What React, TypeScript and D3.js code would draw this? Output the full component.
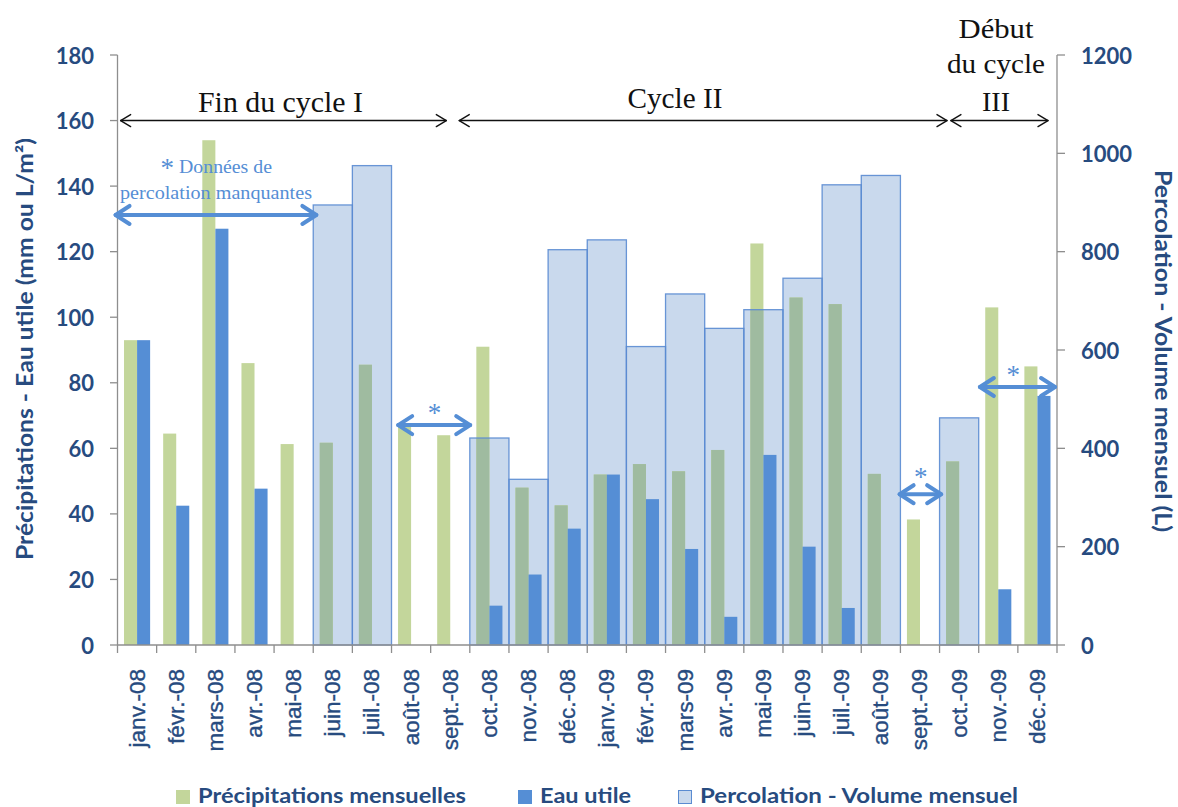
import React from "react";
import * as d3 from "d3";

const months = ["janv.-08","févr.-08","mars-08","avr.-08","mai-08","juin-08","juil.-08","août-08","sept.-08","oct.-08","nov.-08","déc.-08","janv.-09","févr.-09","mars-09","avr.-09","mai-09","juin-09","juil.-09","août-09","sept.-09","oct.-09","nov.-09","déc.-09"];
const precipitations = [93, 64.5, 154, 86, 61.3, 61.7, 85.5, 67, 64, 91, 48, 42.6, 52, 55.2, 53, 59.5, 122.5, 106, 104, 52.2, 38.3, 56, 103, 85];
const eauUtile: (number | null)[] = [93, 42.5, 127, 47.7, null, null, null, null, null, 12, 21.5, 35.5, 52, 44.5, 29.3, 8.6, 58, 30, 11.3, null, null, null, 17, 76];
const percolation: (number | null)[] = [null, null, null, null, null, 895, 975, null, null, 421, 337, 804, 824, 607, 714, 644, 682, 746, 936, 955, null, 462, null, null];
const leftTicks = [0, 20, 40, 60, 80, 100, 120, 140, 160, 180];
const rightTicks = [0, 200, 400, 600, 800, 1000, 1200];
const seriesNames = ["Précipitations mensuelles", "Eau utile", "Percolation - Volume mensuel"];

// annotations: x in fractional category index, y in left-axis units
const cycleArrows = [
  { i1: 0.08, i2: 8.4 },
  { i1: 8.73, i2: 21.19 },
  { i1: 21.29, i2: 23.77 },
];
const missingArrows = [
  { i1: -0.05, i2: 5.08, v: 131.2, star: [1.27, 147.5] },
  { i1: 7.17, i2: 9.01, v: 67.1, star: [8.1, 72.5] },
  { i1: 19.98, i2: 21.04, v: 46, star: [20.52, 53] },
  { i1: 22.03, i2: 23.95, v: 78.7, star: [22.88, 84.3] },
];

const W = 1178, H = 807;
const X0 = 117.5, X1 = 1057, YT = 55, YB = 645;
const navy = "#274b7f";
const green = "#c3d69b";
const greenDark = "#9fbba0";
const blue = "#558ed5";
const percFill = "#c9d9ed";
const percStroke = "#5a8bd1";
const axisCol = "#8e8e8e";
const sans = "Lato, 'Open Sans', sans-serif";
const serif = "'Liberation Serif', 'DejaVu Serif', serif";

function Arrow({ xa, xb, y, color, w, head, half }: any) {
  return (
    <g stroke={color} strokeWidth={w} fill="none" strokeLinecap="round" strokeLinejoin="round">
      <path d={`M${xa},${y}L${xb},${y}`} />
      <path d={`M${xa + head},${y - half}L${xa},${y}L${xa + head},${y + half}`} />
      <path d={`M${xb - head},${y - half}L${xb},${y}L${xb - head},${y + half}`} />
    </g>
  );
}

export default function App() {
  const x = d3.scaleBand<string>().domain(months).range([X0, X1]).paddingInner(0).paddingOuter(0);
  const step = x.bandwidth();
  const sub = d3.scaleBand<string>().domain(["p", "e"]).range([0, step]).paddingInner(0).paddingOuter(0.5);
  const y1 = d3.scaleLinear().domain([0, 180]).range([YB, YT]);
  const y2 = d3.scaleLinear().domain([0, 1200]).range([YB, YT]);
  const xi = (i: number) => X0 + i * step;

  return (
    <svg width={W} height={H} style={{ position: "absolute", left: 0, top: 0, background: "#fff" }}>
      {/* percolation fills */}
      {months.map((m, i) => percolation[i] == null ? null : (
        <rect key={"pf" + m} x={x(m)} y={y2(percolation[i] as number)} width={step}
          height={YB - y2(percolation[i] as number)} fill={percFill} />
      ))}
      {/* precipitation bars */}
      {months.map((m, i) => {
        const bx = (x(m) as number) + (sub("p") as number);
        const top = y1(precipitations[i]);
        const p = percolation[i];
        const darkTop = p == null ? null : Math.max(top, y2(p));
        return (
          <g key={"g" + m}>
            <rect x={bx} y={top} width={sub.bandwidth()} height={YB - top} fill={green} />
            {darkTop != null && <rect x={bx} y={darkTop} width={sub.bandwidth()} height={YB - darkTop} fill={greenDark} />}
          </g>
        );
      })}
      {/* percolation outlines */}
      {months.map((m, i) => percolation[i] == null ? null : (
        <rect key={"po" + m} x={x(m)} y={y2(percolation[i] as number)} width={step}
          height={YB - y2(percolation[i] as number)} fill="none" stroke={percStroke} strokeWidth={1.3} strokeOpacity={0.9} />
      ))}
      {/* eau utile */}
      {months.map((m, i) => eauUtile[i] == null ? null : (
        <rect key={"e" + m} x={(x(m) as number) + (sub("e") as number)} y={y1(eauUtile[i] as number)}
          width={sub.bandwidth()} height={YB - y1(eauUtile[i] as number)} fill={blue} />
      ))}

      {/* axes */}
      <g stroke={axisCol} strokeWidth={1.3}>
        <line x1={X0} x2={X0} y1={YT} y2={YB} />
        <line x1={X1} x2={X1} y1={YT} y2={YB} />
        <line x1={X0} x2={X1} y1={YB} y2={YB} />
        {leftTicks.map(t => <line key={"lt" + t} x1={X0 - 7.5} x2={X0} y1={y1(t)} y2={y1(t)} />)}
        {rightTicks.map(t => <line key={"rt" + t} x1={X1} x2={X1 + 8} y1={y2(t)} y2={y2(t)} />)}
        {[...months.map(m => x(m) as number), X1].map((px, k) => <line key={"bt" + k} x1={px} x2={px} y1={YB} y2={YB + 8} />)}
      </g>
      <g fill={navy} fontFamily={sans} fontWeight={700} fontSize={22}>
        {leftTicks.map(t => <text key={"ll" + t} x={94} y={y1(t)} textAnchor="end" dominantBaseline="central">{t}</text>)}
        {rightTicks.map(t => <text key={"rl" + t} x={1081} y={y2(t)} textAnchor="start" dominantBaseline="central">{t}</text>)}
      </g>
      <g fill={navy} fontFamily="'Liberation Sans', Arial, sans-serif" fontSize={22.5} stroke={navy} strokeWidth={0.35}>
        {months.map(m => {
          const cx = (x(m) as number) + step / 2;
          return <text key={"xl" + m} transform={`translate(${cx},669) rotate(-90)`} textAnchor="end" dominantBaseline="central">{m}</text>;
        })}
      </g>
      {/* axis titles */}
      <text transform={`translate(33,349) rotate(-90)`} textAnchor="middle" fill={navy} fontFamily={sans} fontWeight={700}
        fontSize={22} textLength={422} lengthAdjust="spacingAndGlyphs">Précipitations - Eau utile (mm ou L/m²)</text>
      <text transform={`translate(1155,351) rotate(90)`} textAnchor="middle" fill={navy} fontFamily={sans} fontWeight={700}
        fontSize={22} textLength={362} lengthAdjust="spacingAndGlyphs">Percolation - Volume mensuel (L)</text>

      {/* cycle annotations */}
      {cycleArrows.map((c, k) => (
        <Arrow key={"ca" + k} xa={xi(c.i1)} xb={xi(c.i2)} y={y1(160)} color="#111" w={1.4} head={10} half={6} />
      ))}
      <g fontFamily={serif} fill="#111">
        <text x={280.5} y={112} textAnchor="middle" fontSize={30} textLength={165} lengthAdjust="spacingAndGlyphs">Fin du cycle I</text>
        <text x={675} y={108} textAnchor="middle" fontSize={29} textLength={95} lengthAdjust="spacingAndGlyphs">Cycle II</text>
        <text x={996} y={38} textAnchor="middle" fontSize={28} textLength={75} lengthAdjust="spacingAndGlyphs">Début</text>
        <text x={996} y={73} textAnchor="middle" fontSize={28} textLength={98} lengthAdjust="spacingAndGlyphs">du cycle</text>
        <text x={996} y={111} textAnchor="middle" fontSize={28} textLength={28} lengthAdjust="spacingAndGlyphs">III</text>
      </g>

      {/* missing percolation annotations */}
      {missingArrows.map((a, k) => (
        <g key={"ma" + k}>
          <Arrow xa={xi(a.i1)} xb={xi(a.i2)} y={y1(a.v)} color={blue} w={4} head={14} half={9} />
          <text x={xi(a.star[0])} y={y1(a.star[1]) + 15} textAnchor="middle" fill={blue} fontFamily={serif} fontSize={27}>*</text>
        </g>
      ))}
      <g fontFamily={serif} fill={blue} fontSize={19}>
        <text x={179} y={173} textLength={93} lengthAdjust="spacingAndGlyphs">Données de</text>
        <text x={120} y={199} textLength={192} lengthAdjust="spacingAndGlyphs">percolation manquantes</text>
      </g>

      {/* legend */}
      <g fontFamily={sans} fontWeight={700} fontSize={21} fill={navy}>
        <rect x={176} y={790} width={14} height={14} fill={green} />
        <text x={198} y={803} textLength={268} lengthAdjust="spacingAndGlyphs">{seriesNames[0]}</text>
        <rect x={518} y={790} width={14} height={14} fill={blue} />
        <text x={540} y={803} textLength={91} lengthAdjust="spacingAndGlyphs">{seriesNames[1]}</text>
        <rect x={678.5} y={790.5} width={13} height={13} fill={percFill} stroke={percStroke} strokeWidth={1} />
        <text x={700} y={803} textLength={318} lengthAdjust="spacingAndGlyphs">{seriesNames[2]}</text>
      </g>
    </svg>
  );
}
